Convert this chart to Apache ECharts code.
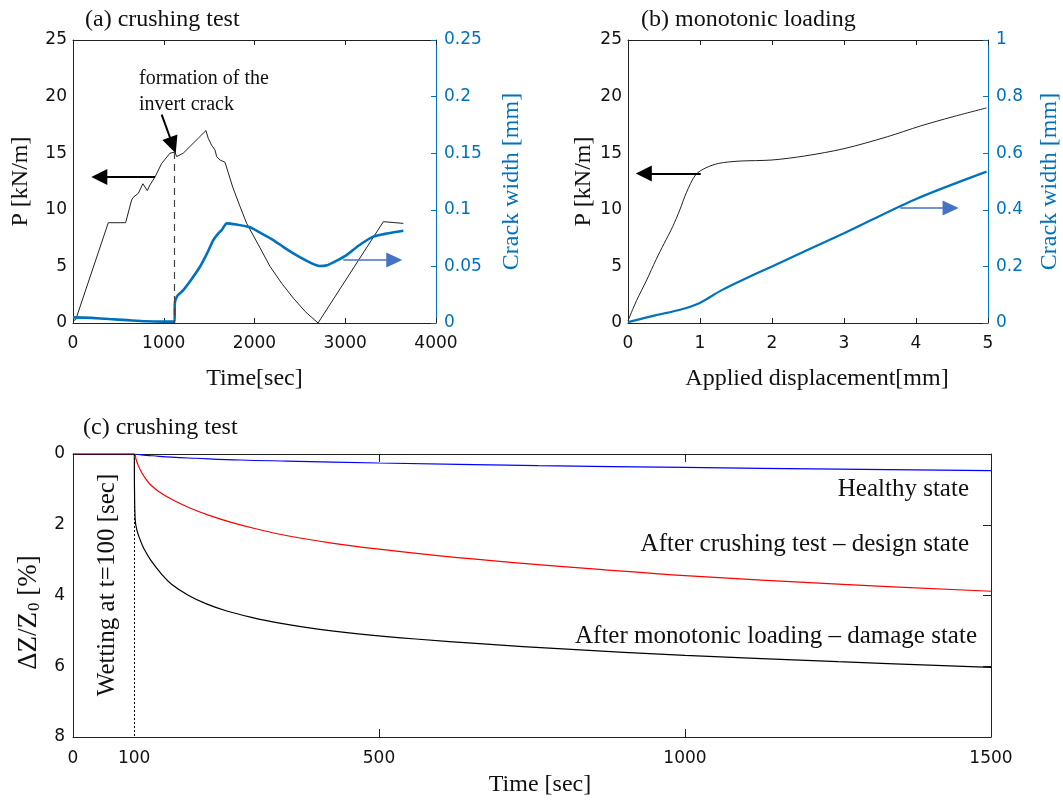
<!DOCTYPE html>
<html>
<head>
<meta charset="utf-8">
<title>crushing test</title>
<script src="https://cdn.jsdelivr.net/npm/echarts@6/dist/echarts.min.js"></script>
<style>
  html, body { margin: 0; padding: 0; background: #fff; }
  #main { width: 1063px; height: 801px; }
</style>
</head>
<body>
<div id="main"></div>
<script>
// (a) crushing test - load vs time
var aTime = [0, 30, 389, 580, 646, 664, 683, 720, 770, 819, 848, 904, 977, 1069, 1124, 1142, 1215, 1465, 1491, 1528, 1564, 1583, 1620, 1675, 1760, 1840, 1914, 2050, 2171, 2300, 2428, 2560, 2700, 3420, 3640];
var aLoad = [0.2, 0.3, 8.86, 8.86, 10.87, 11.1, 11.0, 11.46, 12.3, 11.7, 12.2, 12.9, 14.1, 15.0, 15.1, 14.7, 15.0, 17.0, 16.3, 15.7, 15.3, 14.7, 14.4, 14.2, 12.0, 10.3, 8.8, 6.8, 5.0, 3.5, 2.2, 1.0, 0.0, 8.95, 8.8];
// (a) crack width vs time
var aCrackTime = [0, 200, 400, 600, 800, 1000, 1120, 1122, 1150, 1215, 1300, 1399, 1480, 1546, 1600, 1638, 1694, 1800, 1950, 2080, 2207, 2320, 2428, 2560, 2650, 2721, 2800, 2880, 3015, 3150, 3309, 3457, 3640];
var aCrack = [0.005, 0.0045, 0.0035, 0.0025, 0.0015, 0.0012, 0.0012, 0.0174, 0.024, 0.029, 0.038, 0.0497, 0.062, 0.0733, 0.079, 0.082, 0.088, 0.087, 0.0845, 0.079, 0.0733, 0.067, 0.0615, 0.0555, 0.052, 0.0503, 0.051, 0.054, 0.060, 0.0685, 0.0763, 0.079, 0.0815];

// (b) monotonic loading
var bDisp = [0, 0.12, 0.26, 0.39, 0.5, 0.62, 0.72, 0.81, 0.94, 1.08, 1.26, 1.54, 2.0, 2.45, 3.0, 3.6, 4.06, 4.5, 4.98];
var bLoad = [0.2, 2.0, 3.8, 5.6, 7.0, 8.5, 10.0, 11.5, 13.1, 13.7, 14.1, 14.3, 14.4, 14.75, 15.4, 16.45, 17.4, 18.2, 19.0];
var bCrackDisp = [0, 0.39, 0.71, 0.99, 1.31, 2.0, 3.0, 3.97, 4.98];
var bCrack = [0.003, 0.028, 0.046, 0.07, 0.117, 0.2, 0.317, 0.435, 0.535];

// (c) settlement after wetting
var cTimeHealthy = [0, 100, 115, 130, 161, 200, 274, 350, 500, 760, 1000, 1250, 1500];
var cHealthy = [0, 0, 0.03, 0.05, 0.09, 0.12, 0.17, 0.2, 0.255, 0.33, 0.38, 0.43, 0.47];
var cTimeDesign = [0, 100, 103, 106, 110, 116, 125, 140, 161, 190, 220, 260, 300, 350, 420, 500, 600, 720, 860, 1000, 1250, 1500];
var cDesign = [0, 0, 0.15, 0.3, 0.45, 0.63, 0.84, 1.06, 1.28, 1.52, 1.72, 1.94, 2.12, 2.31, 2.51, 2.69, 2.88, 3.07, 3.26, 3.44, 3.68, 3.88];
var cTimeDamage = [0, 100, 100.5, 101.7, 104.5, 110, 116, 127, 144, 161, 189, 217, 250, 290, 340, 400, 470, 560, 670, 800, 1000, 1250, 1500];
var cDamage = [0, 0, 1.0, 1.88, 2.16, 2.44, 2.68, 3.0, 3.38, 3.68, 4.0, 4.23, 4.43, 4.61, 4.79, 4.95, 5.09, 5.23, 5.37, 5.51, 5.69, 5.87, 6.03];

// tick labels for (c)
var cTicksX = [0, 100, 500, 1000, 1500];
var cTickMarks = [500, 1000];

function pairs(xs, ys) {
    return xs.map(function (x, i) { return [x, ys[i]]; });
}

function plain(v) {
    return String(parseFloat(Number(v).toFixed(6)));
}

var serif = 'Liberation Serif';
var sans = 'DejaVu Sans';
var blue = '#0072BD';
var ink = '#111';

function baseX(grid, min, max, interval, top) {
    return {
        type: 'value', gridIndex: grid, min: min, max: max, interval: interval,
        position: top ? 'top' : 'bottom',
        axisLine: { show: true, onZero: false, lineStyle: { color: '#222', width: 1 } },
        axisTick: { show: true, inside: true, length: 5, lineStyle: { color: '#222' } },
        axisLabel: { show: !top, color: ink, fontFamily: sans, fontSize: 17, margin: 12, formatter: plain },
        splitLine: { show: false }
    };
}

function leftY(grid, name, gap) {
    return {
        type: 'value', gridIndex: grid, min: 0, max: 25, interval: 5, position: 'left',
        name: name, nameLocation: 'middle', nameGap: gap, nameRotate: 90,
        nameTextStyle: { fontFamily: serif, fontSize: 24, color: ink },
        axisLine: { show: true, onZero: false, lineStyle: { color: '#222', width: 1 } },
        axisTick: { show: false },
        axisLabel: { color: ink, fontFamily: sans, fontSize: 17, margin: 6, formatter: plain },
        splitLine: { show: false }
    };
}

function rightY(grid, max, interval, gap) {
    return {
        type: 'value', gridIndex: grid, min: 0, max: max, interval: interval, position: 'right',
        name: 'Crack width [mm]', nameLocation: 'middle', nameGap: gap, nameRotate: 90,
        nameTextStyle: { fontFamily: serif, fontSize: 24, color: blue },
        axisLine: { show: true, onZero: false, lineStyle: { color: blue, width: 1 } },
        axisTick: { show: true, inside: true, length: 5, lineStyle: { color: blue } },
        axisLabel: { color: blue, fontFamily: sans, fontSize: 17, margin: 8, formatter: plain },
        splitLine: { show: false }
    };
}

var cBottom = baseX(2, 0, 1500, 100, false);
cBottom.axisLabel.customValues = cTicksX;
cBottom.axisTick.customValues = cTickMarks;
cBottom.axisTick.length = 8;
cBottom.axisLabel.margin = 13;
cBottom.name = 'Time [sec]';
cBottom.nameLocation = 'middle';
cBottom.nameGap = 36;
cBottom.nameTextStyle = { fontFamily: serif, fontSize: 24, color: ink, padding: [0, 0, 0, 16] };
var cTop = baseX(2, 0, 1500, 100, true);
cTop.axisTick.customValues = cTickMarks;
cTop.axisTick.length = 8;

var aBottom = baseX(0, 0, 4000, 1000, false);
aBottom.name = 'Time[sec]';
aBottom.nameLocation = 'middle';
aBottom.nameGap = 44;
aBottom.nameTextStyle = { fontFamily: serif, fontSize: 24, color: ink };
var bBottom = baseX(1, 0, 5, 1, false);
bBottom.name = 'Applied displacement[mm]';
bBottom.nameLocation = 'middle';
bBottom.nameGap = 44;
bBottom.nameTextStyle = { fontFamily: serif, fontSize: 24, color: ink, padding: [0, 0, 0, 18] };

var arrowEnd = function (from, to, size) {
    return [
        { coord: from, symbol: 'none' },
        { coord: to, symbol: 'triangle', symbolSize: size }
    ];
};

function settleLine(name, xs, ys, color) {
    return {
        name: name, type: 'line', xAxisIndex: 4, yAxisIndex: 4,
        data: pairs(xs, ys), showSymbol: false, smooth: 0.4,
        lineStyle: { color: color, width: 1.2 }
    };
}

var chart = echarts.init(document.getElementById('main'));

var healthy = settleLine('Healthy state', cTimeHealthy, cHealthy, '#0000ff');
healthy.markLine = {
    silent: true, symbol: ['none', 'none'], label: { show: false },
    lineStyle: { color: '#000', width: 1, type: [2, 2] },
    data: [{ xAxis: 100 }]
};

var option = {
    animation: false,
    backgroundColor: '#fff',
    title: [
        { text: '(a) crushing test', left: 80, top: 3, textStyle: { fontFamily: serif, fontSize: 24, fontWeight: 'normal', color: ink } },
        { text: '(b) monotonic loading', left: 636, top: 3, textStyle: { fontFamily: serif, fontSize: 24, fontWeight: 'normal', color: ink } },
        { text: '(c) crushing test', left: 78, top: 411, textStyle: { fontFamily: serif, fontSize: 24, fontWeight: 'normal', color: ink } }
    ],
    grid: [
        { left: 73, top: 40, width: 363, height: 283 },
        { left: 628, top: 40, width: 364, height: 283 },
        { left: 73, top: 454, width: 918, height: 283 }
    ],
    xAxis: [
        aBottom,
        baseX(0, 0, 4000, 1000, true),
        bBottom,
        baseX(1, 0, 5, 1, true),
        cBottom,
        cTop
    ],
    yAxis: [
        leftY(0, 'P [kN/m]', 40),
        rightY(0, 0.25, 0.05, 64),
        leftY(1, 'P [kN/m]', 32),
        rightY(1, 1, 0.2, 50),
        {
            type: 'value', gridIndex: 2, min: 0, max: 8, interval: 2, inverse: true, position: 'left',
            name: '{a|ΔZ/Z}{s|0}{a| [%]}', nameLocation: 'middle', nameGap: 30, nameRotate: 90,
            nameTextStyle: {
                padding: [0, 34, 0, 0],
                rich: {
                    a: { fontFamily: serif, fontSize: 27, color: ink },
                    s: { fontFamily: serif, fontSize: 17, color: ink, padding: [12, 0, 0, 1] }
                }
            },
            axisLine: { show: true, onZero: false, lineStyle: { color: '#222', width: 1 } },
            axisTick: { show: false },
            axisLabel: { color: ink, fontFamily: sans, fontSize: 17, margin: 8, formatter: plain },
            splitLine: { show: false }
        },
        {
            type: 'value', gridIndex: 2, min: 0, max: 8, interval: 2, inverse: true, position: 'right',
            axisLine: { show: true, onZero: false, lineStyle: { color: '#222', width: 1 } },
            axisTick: { show: true, inside: true, length: 8, lineStyle: { color: '#222' } },
            axisLabel: { show: false },
            splitLine: { show: false }
        }
    ],
    series: [
        {
            name: 'P (a)', type: 'line', xAxisIndex: 0, yAxisIndex: 0,
            data: pairs(aTime, aLoad), showSymbol: false,
            lineStyle: { color: '#222', width: 1 },
            markLine: {
                silent: true, symbol: ['none', 'triangle'], label: { show: false },
                lineStyle: { color: '#000', width: 2, type: 'solid' },
                data: [
                    arrowEnd([904, 12.9], [290, 12.9], [16, 16]),
                    arrowEnd([977, 18.4], [1100, 15.7], [16, 17]),
                    [
                        { coord: [1120, 15.1], symbol: 'none', lineStyle: { type: [7, 5], width: 1.2, color: '#444' } },
                        { coord: [1120, 0], symbol: 'none' }
                    ]
                ]
            }
        },
        {
            name: 'Crack (a)', type: 'line', xAxisIndex: 0, yAxisIndex: 1,
            data: pairs(aCrackTime, aCrack), showSymbol: false, smooth: 0.2,
            lineStyle: { color: blue, width: 2.6 },
            markLine: {
                silent: true, symbol: ['none', 'triangle'], label: { show: false },
                lineStyle: { color: '#4472C4', width: 1.5, type: 'solid' },
                data: [arrowEnd([2978, 0.0557], [3540, 0.0557], [15, 16])]
            }
        },
        {
            name: 'P (b)', type: 'line', xAxisIndex: 2, yAxisIndex: 2,
            data: pairs(bDisp, bLoad), showSymbol: false, smooth: 0.3,
            lineStyle: { color: '#222', width: 1 },
            markLine: {
                silent: true, symbol: ['none', 'triangle'], label: { show: false },
                lineStyle: { color: '#000', width: 2, type: 'solid' },
                data: [arrowEnd([1.01, 13.2], [0.22, 13.2], [16, 16])]
            }
        },
        {
            name: 'Crack (b)', type: 'line', xAxisIndex: 2, yAxisIndex: 3,
            data: pairs(bCrackDisp, bCrack), showSymbol: false, smooth: 0.3,
            lineStyle: { color: blue, width: 2.2 },
            markLine: {
                silent: true, symbol: ['none', 'triangle'], label: { show: false },
                lineStyle: { color: '#4472C4', width: 1.5, type: 'solid' },
                data: [arrowEnd([3.78, 0.406], [4.48, 0.406], [15, 16])]
            }
        },
        healthy,
        settleLine('After crushing test – design state', cTimeDesign, cDesign, '#ff0000'),
        settleLine('After monotonic loading – damage state', cTimeDamage, cDamage, '#000000')
    ],
    graphic: [
        {
            type: 'text', left: 139, top: 66,
            style: { text: 'formation of the\ninvert crack', fontFamily: serif, fontSize: 20, lineHeight: 26, fill: ink }
        },
        {
            type: 'text', x: 969, y: 489,
            style: { text: 'Healthy state', fontFamily: serif, fontSize: 25, fill: ink, align: 'right', verticalAlign: 'middle' }
        },
        {
            type: 'text', x: 969, y: 544,
            style: { text: 'After crushing test – design state', fontFamily: serif, fontSize: 25, fill: ink, align: 'right', verticalAlign: 'middle' }
        },
        {
            type: 'text', x: 977, y: 636,
            style: { text: 'After monotonic loading – damage state', fontFamily: serif, fontSize: 25, fill: ink, align: 'right', verticalAlign: 'middle' }
        },
        {
            type: 'text', x: 107, y: 585, rotation: Math.PI / 2,
            style: { text: 'Wetting at t=100 [sec]', fontFamily: serif, fontSize: 25, fill: ink, align: 'center', verticalAlign: 'middle' }
        }
    ]
};

chart.setOption(option);
</script>
</body>
</html>
